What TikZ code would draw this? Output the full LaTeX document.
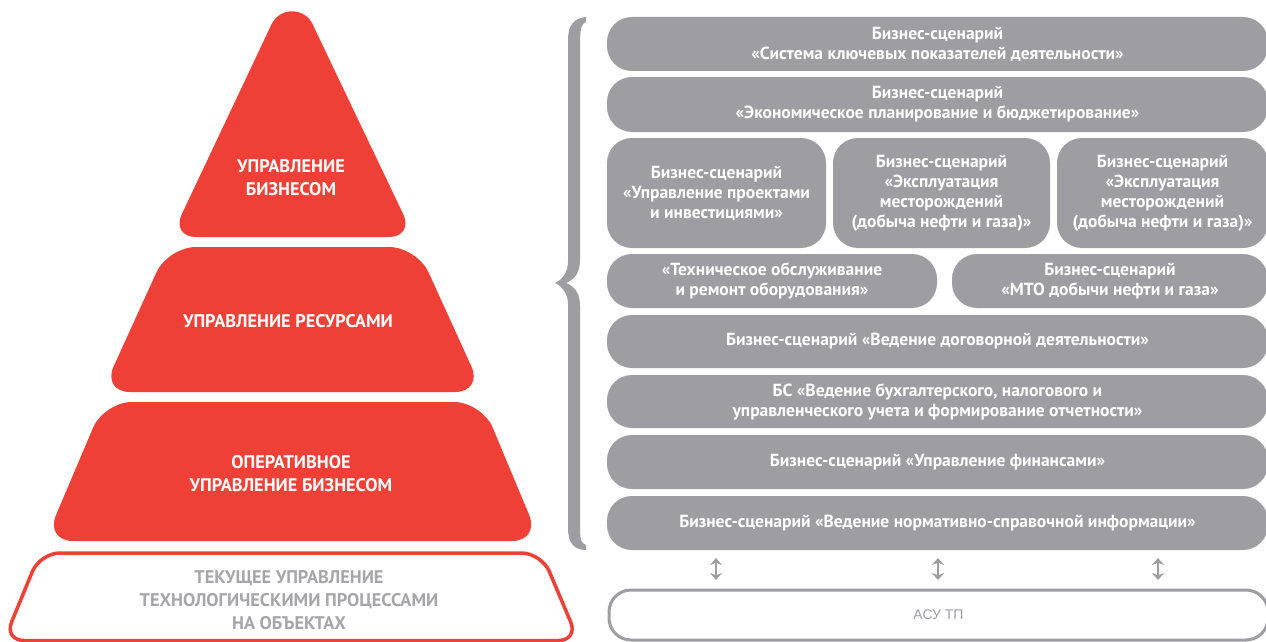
\documentclass[tikz,border=0pt]{standalone}
\usepackage{fontspec}
\setmainfont{PT Sans}
\newfontfamily\cond{PT Sans}
\newfontfamily\asufont{Liberation Sans}
\usetikzlibrary{arrows.meta}
\definecolor{pred}{HTML}{EE4036}
\definecolor{bgray}{HTML}{9E9DA2}
\definecolor{tgray}{HTML}{A6A6A9}
\tikzset{
  gbox/.style={fill=bgray, rounded corners=25pt, text=white, align=center, inner sep=0pt,
    font={\cond\bfseries\fontsize{17.5}{20}\selectfont}},
  ptext/.style={text=white, align=center, inner sep=0pt, font={\cond\bfseries\fontsize{18.3}{23}\selectfont}},
  dbl/.style={bgray, line width=2.5pt, {Stealth[length=7pt,width=12pt]}-{Stealth[length=7pt,width=12pt]}},
}
\begin{document}
\begin{tikzpicture}[x=1pt,y=-1pt]
\useasboundingbox (0,0) rectangle (1266,642);
\fill[white] (0,0) rectangle (1266,642);

% pyramid
\fill[pred] (196,237) -- (389,237) .. controls (402.8,237) and (409.2,226.8) .. (403.3,214.4)
  -- (312.6,24.3) .. controls (304.4,7) and (279.7,7) .. (271.5,24.4)
  -- (181.7,214.4) .. controls (175.8,226.8) and (182.3,237) .. (196,237) -- cycle;
\fill[pred, rounded corners=28pt] (292,392) -- (483,392) -- (417,247) -- (168,247) -- (102,392) -- cycle;
\fill[pred, rounded corners=28pt] (292,541) -- (540,541) -- (482,402) -- (104,402) -- (45,541) -- cycle;
\draw[pred, line width=3.5pt, rounded corners=20pt] (292,640.5) -- (578.5,640.5) -- (541.5,553) -- (40,553) -- (4,640.5) -- cycle;

\node[ptext] (t1) at (291,178) {УПРАВЛЕНИЕ\\БИЗНЕСОМ};
\node[ptext] (t2) at (288,321) {УПРАВЛЕНИЕ РЕСУРСАМИ};
\node[ptext] (t3) at (291,474) {ОПЕРАТИВНОЕ\\УПРАВЛЕНИЕ БИЗНЕСОМ};
\node[ptext, text=tgray] (t4) at (289,600) {ТЕКУЩЕЕ УПРАВЛЕНИЕ\\ТЕХНОЛОГИЧЕСКИМИ ПРОЦЕССАМИ\\НА ОБЪЕКТАХ};

% brace
\fill[bgray] (586,17) .. controls (574,18) and (568,25) .. (568,40) -- (568,262)
  .. controls (568,272) and (562,280) .. (555,283)
  .. controls (562,286) and (568,294) .. (568,304) -- (568,528)
  .. controls (568,543) and (574,550) .. (586,550) -- (586,545)
  .. controls (582,544) and (580,540) .. (580,530) -- (580,306)
  .. controls (580,295) and (576,287) .. (566,283)
  .. controls (576,279) and (580,271) .. (580,260) -- (580,42)
  .. controls (580,28) and (582,23) .. (586,22) -- cycle;

% boxes
\node[gbox, minimum width=661, minimum height=54] (r1) at (937.5,44) {Бизнес-сценарий\\«Система ключевых показателей деятельности»};
\node[gbox, minimum width=661, minimum height=55] (r2) at (937.5,104.5) {Бизнес-сценарий\\«Экономическое планирование и бюджетирование»};
\node[gbox, minimum width=219, minimum height=110] (r3a) at (716.5,193) {Бизнес-сценарий\\«Управление проектами\\и инвестициями»};
\node[gbox, minimum width=217, minimum height=110] (r3b) at (941.5,193) {Бизнес-сценарий\\«Эксплуатация\\месторождений\\(добыча нефти и газа)»};
\node[gbox, minimum width=211, minimum height=110] (r3c) at (1162.5,193) {Бизнес-сценарий\\«Эксплуатация\\месторождений\\(добыча нефти и газа)»};
\node[gbox, minimum width=330, minimum height=54] (r4a) at (772,281) {«Техническое обслуживание\\и ремонт оборудования»};
\node[gbox, minimum width=316, minimum height=54] (r4b) at (1110,281) {Бизнес-сценарий\\«МТО добычи нефти и газа»};
\node[gbox, minimum width=661, minimum height=53] (r5) at (937.5,341.5) {Бизнес-сценарий «Ведение договорной деятельности»};
\node[gbox, minimum width=661, minimum height=53] (r6) at (937.5,401.5) {БС «Ведение бухгалтерского, налогового и\\управленческого учета и формирование отчетности»};
\node[gbox, minimum width=661, minimum height=54] (r7) at (937.5,462) {Бизнес-сценарий «Управление финансами»};
\node[gbox, minimum width=661, minimum height=54] (r8) at (937.5,523) {Бизнес-сценарий «Ведение нормативно-справочной информации»};

\node[draw=bgray, line width=3pt, rounded corners=22pt, minimum width=659, minimum height=50,
  text=bgray, font={\asufont\fontsize{14}{17}\selectfont}] (asu) at (938.5,615) {АСУ ТП};

\coordinate (a1t) at (716,558); \coordinate (a1b) at (716,580);
\coordinate (a2t) at (938,558); \coordinate (a2b) at (938,580);
\coordinate (a3t) at (1158,558); \coordinate (a3b) at (1158,580);
\draw[dbl] (a1t) -- (a1b);
\draw[dbl] (a2t) -- (a2b);
\draw[dbl] (a3t) -- (a3b);
\end{tikzpicture}
\end{document}
